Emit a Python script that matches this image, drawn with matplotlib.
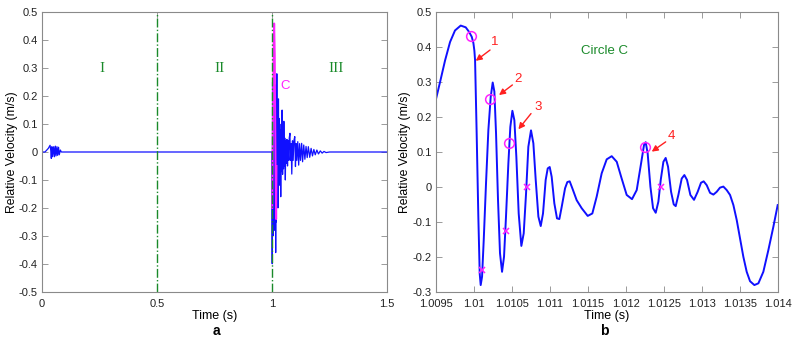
import matplotlib
matplotlib.use("Agg")
import matplotlib.pyplot as plt

plt.rcParams['font.family'] = ['Liberation Sans', 'DejaVu Sans']

# ---------------- Panel a data ----------------
a_time = [0.0, 0.013, 0.0275, 0.035, 0.038, 0.0405, 0.043, 0.046, 0.051, 0.054, 0.058, 0.061,
          0.065, 0.068, 0.072, 0.075, 0.080, 0.084, 0.5, 0.999,
          1.0000, 1.0010, 1.0025, 1.0040, 1.0055, 1.0070, 1.0085, 1.0100, 1.0115, 1.0130,
          1.0145, 1.0160, 1.0175, 1.0190, 1.0210, 1.0225, 1.0240, 1.0260, 1.0280, 1.0300,
          1.0320, 1.0340, 1.0360, 1.0380, 1.0400, 1.0420, 1.0440, 1.0460, 1.0480, 1.0500,
          1.0515, 1.0535, 1.0555, 1.0580, 1.0600, 1.0625, 1.0650, 1.0675, 1.0700, 1.0725,
          1.0750, 1.0780, 1.0800, 1.0830, 1.0860, 1.0890, 1.0920, 1.0950, 1.0990, 1.1020,
          1.1050, 1.1080, 1.1120, 1.1160, 1.1200, 1.1240, 1.1290, 1.1330, 1.1380, 1.1430,
          1.1480, 1.1530, 1.1580, 1.1640, 1.1700, 1.1760, 1.1820, 1.1880, 1.1950, 1.2020,
          1.2100, 1.2180, 1.2260, 1.2350, 1.2500, 1.5]
a_vel = [0.0, 0.0, 0.013, 0.024, 0.007, -0.023, 0.019, -0.017, 0.019, -0.017, 0.021, -0.014,
         0.019, -0.012, 0.017, -0.010, 0.007, 0.0, 0.0, 0.0,
         0.0, -0.40, 0.25, -0.30, 0.22, -0.25, 0.20, -0.28, 0.18, -0.22,
         0.24, -0.36, 0.20, -0.25, 0.28, -0.15, 0.15, -0.20, 0.19, -0.12,
         0.12, -0.09, 0.08, -0.16, 0.10, -0.07, 0.15, -0.08, 0.06, -0.06,
         0.11, -0.05, 0.05, -0.10, 0.04, -0.04, 0.045, -0.05, 0.04, -0.03,
         0.05, 0.067, -0.03, 0.03, -0.079, 0.04, -0.03, 0.04, 0.055, -0.052,
         0.03, -0.03, 0.037, -0.047, 0.03, -0.03, 0.031, -0.035, 0.025, -0.026,
         0.02, -0.02, 0.019, -0.019, 0.013, -0.014, 0.009, -0.010, 0.007, -0.007,
         0.004, -0.004, 0.002, -0.002, 0.0, 0.0]

# highlighted segment C on panel a
c_time = [1.0010, 1.0040, 1.0070, 1.0095, 1.0120, 1.0140, 1.0160, 1.0180, 1.0195]
c_vel = [-0.20, 0.10, 0.38, 0.46, 0.35, 0.10, -0.10, -0.24, -0.05]

stage_lines = [0.5, 1.0]
stage_labels = ['I', 'II', 'III']
stage_x = [0.26, 0.77, 1.28]
stage_y = 0.3

a_xticks = [0, 0.5, 1, 1.5]
a_yticks = [0.5, 0.4, 0.3, 0.2, 0.1, 0, -0.1, -0.2, -0.3, -0.4, -0.5]

# ---------------- Panel b data ----------------
b_time = [1.009500, 1.009557, 1.009623, 1.009689, 1.009754, 1.009829, 1.009895, 1.009939,
          1.009974, 1.009996, 1.010009,
          1.010018, 1.010039, 1.010061, 1.010079, 1.010092, 1.010110, 1.010132, 1.010162,
          1.010193, 1.010224, 1.010250, 1.010272, 1.010294, 1.010320, 1.010346, 1.010373,
          1.010399, 1.010425, 1.010456, 1.010482, 1.010509, 1.010535, 1.010561, 1.010592,
          1.010627, 1.010658, 1.010689, 1.010719, 1.010754, 1.010785, 1.010816, 1.010851,
          1.010882, 1.010912, 1.010947, 1.010974, 1.011000, 1.011026, 1.011061, 1.011096,
          1.011127, 1.011158, 1.011202, 1.011232, 1.011263, 1.011298, 1.011355, 1.011421,
          1.011500, 1.011561, 1.011618, 1.011684, 1.011750, 1.011816, 1.011882, 1.011947,
          1.012013, 1.012083, 1.012145, 1.012202, 1.012241, 1.012263, 1.012289, 1.012325,
          1.012360, 1.012395, 1.012430, 1.012461, 1.012496, 1.012526, 1.012557, 1.012597,
          1.012632, 1.012658, 1.012693, 1.012737, 1.012772, 1.012807, 1.012851, 1.012899,
          1.012947, 1.012991, 1.013026, 1.013066, 1.013110, 1.013154, 1.013197, 1.013241,
          1.013285, 1.013329, 1.013373, 1.013417, 1.013461, 1.013504, 1.013548, 1.013592,
          1.013636, 1.013693, 1.013746, 1.013811, 1.013877, 1.013943, 1.014000]
b_vel = [0.248, 0.300, 0.362, 0.415, 0.448, 0.462, 0.457, 0.444,
         0.430, 0.412, 0.390,
         0.363, 0.153, -0.085, -0.248, -0.281, -0.257, -0.152, 0.010,
         0.163, 0.258, 0.299, 0.273, 0.153, -0.038, -0.190, -0.243,
         -0.200, -0.085, 0.067, 0.172, 0.218, 0.191, 0.087, -0.076,
         -0.169, -0.133, -0.018, 0.115, 0.162, 0.125, 0.020, -0.085,
         -0.112, -0.076, 0.020, 0.053, 0.057, 0.029, -0.047, -0.090,
         -0.092, -0.057, -0.004, 0.014, 0.016, -0.004, -0.038, -0.061,
         -0.083, -0.076, -0.028, 0.039, 0.079, 0.088, 0.072, 0.024,
         -0.023, -0.035, -0.009, 0.067, 0.120, 0.128, 0.096, 0.001,
         -0.061, -0.074, -0.042, 0.020, 0.072, 0.083, 0.058, -0.014,
         -0.050, -0.055, -0.023, 0.024, 0.034, 0.020, -0.023, -0.037,
         -0.014, 0.012, 0.016, 0.005, -0.017, -0.022, -0.014, -0.002,
         0.001, -0.009, -0.023, -0.052, -0.095, -0.147, -0.200, -0.243,
         -0.270, -0.281, -0.276, -0.243, -0.181, -0.114, -0.052]

circle_t = [1.00997, 1.01022, 1.01047, 1.01226]
circle_v = [0.433, 0.251, 0.126, 0.114]
cross_t = [1.01011, 1.01042, 1.01070, 1.01246]
cross_v = [-0.238, -0.126, -0.001, 0.001]

arrow_labels = ['1', '2', '3', '4']
arrow_head_t = [1.010026, 1.010333, 1.010588, 1.012342]
arrow_head_v = [0.361, 0.263, 0.165, 0.101]
arrow_tail_t = [1.010215, 1.010509, 1.010754, 1.012526]
arrow_tail_v = [0.392, 0.292, 0.210, 0.129]
arrow_text_t = [1.010272, 1.010579, 1.010842, 1.012605]
arrow_text_v = [0.414, 0.309, 0.230, 0.146]

b_xticks = [1.0095, 1.01, 1.0105, 1.011, 1.0115, 1.012, 1.0125, 1.013, 1.0135, 1.014]
b_xticklabels = ['1.0095', '1.01', '1.0105', '1.011', '1.0115', '1.012', '1.0125', '1.013', '1.0135', '1.014']
b_yticks = [0.5, 0.4, 0.3, 0.2, 0.1, 0, -0.1, -0.2, -0.3]

# ---------------- Figure ----------------
W, H = 795, 338
fig = plt.figure(figsize=(W / 100, H / 100), dpi=100)

AX_TOP, AX_BOT = 12.3, 291.7

def px_axes(x0, x1):
    return fig.add_axes([x0 / W, 1 - AX_BOT / H, (x1 - x0) / W, (AX_BOT - AX_TOP) / H])

A1 = (42, 387)
A2 = (435.7, 777.7)
ax1 = px_axes(*A1)
ax2 = px_axes(*A2)

blue = '#1010ff'
green = '#1a8a2a'
mag = '#ff22ff'
spine_col = '#8a8a8a'

def style(ax, xpx, ylab_x_px):
    for s in ax.spines.values():
        s.set_color(spine_col)
        s.set_linewidth(0.8)
    ax.tick_params(direction='in', length=4, width=0.6, color=spine_col,
                   top=True, right=True, labelsize=8, labelcolor='#222222')
    ax.tick_params(axis='x', pad=5)
    ax.tick_params(axis='y', pad=3)
    ax.set_xlabel('Time (s)', fontsize=9)
    ax.set_ylabel('Relative Velocity (m/s)', fontsize=8.8)
    ax.xaxis.label.set_va('center')
    ax.yaxis.label.set_va('center')
    h = AX_BOT - AX_TOP
    w = xpx[1] - xpx[0]
    ax.xaxis.set_label_coords(0.5, (AX_BOT - 316) / h)
    ax.yaxis.set_label_coords((ylab_x_px - xpx[0]) / w, 0.5)

def fmt(v):
    return '%g' % v

# Panel a
ax1.plot(a_time, a_vel, color=blue, lw=0.9)
ax1.plot(c_time, c_vel, color=mag, lw=1.4)
for xv in stage_lines:
    ax1.axvline(xv, color=green, lw=1.0, ls='-.')
for lab, xv in zip(stage_labels, stage_x):
    ax1.text(xv, stage_y, lab, color=green, fontsize=11, family='Liberation Serif',
             ha='center', va='center')
ax1.text(1.056, 0.235, 'C', color=mag, fontsize=9.5, ha='center', va='center')
ax1.set_xlim(0, 1.5)
ax1.set_ylim(-0.5, 0.5)
ax1.set_xticks(a_xticks)
ax1.set_xticklabels([fmt(v) for v in a_xticks])
ax1.set_yticks(a_yticks)
ax1.set_yticklabels([fmt(v) for v in a_yticks])
style(ax1, A1, 12.5)

# Panel b
ax2.plot(b_time, b_vel, color=blue, lw=1.4, solid_joinstyle='round')
ax2.plot(circle_t, circle_v, ls='none', marker='o', ms=7, mfc='none', mec=mag, mew=1.1)
ax2.plot(cross_t, cross_v, ls='none', marker='x', ms=4.5, mec=mag, mew=1.1)
for lab, ht, hv, tt, tv, xt, xv in zip(arrow_labels, arrow_head_t, arrow_head_v,
                                       arrow_tail_t, arrow_tail_v, arrow_text_t, arrow_text_v):
    ax2.annotate('', xy=(ht, hv), xytext=(tt, tv),
                 arrowprops=dict(arrowstyle='-|>', color='#ff2020', lw=1.0,
                                 mutation_scale=9, shrinkA=0, shrinkB=0))
    ax2.text(xt, xv, lab, color='#ff2020', fontsize=9.5, ha='center', va='center')
ax2.text(1.011719, 0.390, 'Circle C', color=green, fontsize=9.5, ha='center', va='center')
ax2.set_xlim(1.0095, 1.014)
ax2.set_ylim(-0.3, 0.5)
ax2.set_xticks(b_xticks)
ax2.set_xticklabels(b_xticklabels)
ax2.set_yticks(b_yticks)
ax2.set_yticklabels([fmt(v) for v in b_yticks])
style(ax2, A2, 405)

fig.text(216 / W, 1 - 331 / H, 'a', fontsize=10, fontweight='bold', ha='center', va='center')
fig.text(604 / W, 1 - 331 / H, 'b', fontsize=10, fontweight='bold', ha='center', va='center')

fig.savefig('out.png', dpi=100)
